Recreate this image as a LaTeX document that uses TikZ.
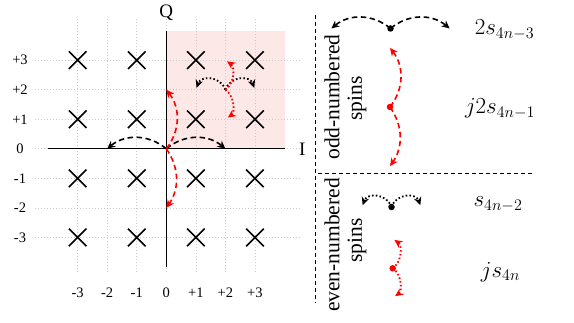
\RequirePackage{fix-cm}
\documentclass[tikz,border=0pt]{standalone}
\usepackage{fontspec}
\setmainfont{Liberation Serif}
\usetikzlibrary{arrows.meta,shapes.misc}
\definecolor{pinkbg}{RGB}{253,232,232}
\begin{document}
\begin{tikzpicture}[x=1pt,y=1pt,
  gridline/.style={draw=gray!40,line width=0.6pt,dash pattern=on 1.2pt off 1.8pt},
  axisline/.style={line width=1.2pt},
  xmark/.style={cross out,draw,line width=1.6pt,minimum size=16pt,inner sep=0pt},
  ticklab/.style={font=\fontsize{14.5}{17}\selectfont,inner sep=0pt},
  axlab/.style={font=\fontsize{19}{22}\selectfont,inner sep=0pt},
  rotlab/.style={font=\fontsize{21.5}{25}\selectfont,rotate=90,inner sep=0pt},
  mlab/.style={font=\fontsize{23}{27}\selectfont,inner sep=0pt,anchor=base},
  dasharr/.style={line width=1.6pt,dash pattern=on 5.5pt off 3.5pt,-{Stealth[length=8pt,width=7.5pt]}},
  dotarr/.style={line width=1.8pt,dash pattern=on 1.6pt off 2.2pt,-{Stealth[length=8pt,width=7.5pt]}},
  divider/.style={line width=0.9pt,dash pattern=on 4pt off 3pt},
  srcdot/.style={circle,fill,inner sep=0pt,minimum size=6.5pt}
]
\useasboundingbox (0,0) rectangle (574,322);

% ---------------- left constellation ----------------
\begin{scope}[shift={(166.3pt,173.2pt)},x=29.55pt,y=29.55pt]
  \fill[pinkbg] (0,0) rectangle (4,4);
  \foreach \i in {-3,...,3} {
    \draw[gridline] (\i,-4.17) -- (\i,4.45);
    \draw[gridline] (-4.45,\i) -- (4.5,\i);
  }
  \coordinate (Iw) at (-4,0);
  \coordinate (Ie) at (4,0);
  \coordinate (Qs) at (0,-4);
  \coordinate (Qn) at (0,4);
  \draw[axisline] (Iw) -- (Ie);
  \draw[axisline] (Qs) -- (Qn);
  \node[axlab] (Q) at (0,4.6) {Q};
  \node[axlab] (I) at (4.6,0) {I};
  \foreach \v/\t in {-3/-3,-2/-2,-1/-1,0/0,1/+1,2/+2,3/+3} {
    \node[ticklab] (xl\v) at (\v,-4.88) {\t};
    \node[ticklab] (yl\v) at (-4.95,\v) {\t};
  }
  \foreach \x in {-3,-1,1,3} {
    \foreach \y in {-3,-1,1,3} {
      \node[xmark] (m\x\y) at (\x,\y) {};
    }
  }
  \coordinate (O) at (0,0);
  \coordinate (L2) at (-2,0);
  \coordinate (R2) at (2,0);
  \coordinate (U2) at (0,2);
  \coordinate (D2) at (0,-2);
  \coordinate (C) at (2,2);
  \coordinate (C1) at (1,2);
  \coordinate (C3) at (3,2);
  \coordinate (Cu) at (2,3);
  \coordinate (Cd) at (2,1);
  \draw[dasharr] (O) to[bend right=40] (L2);
  \draw[dasharr] (O) to[bend left=40] (R2);
  \draw[dasharr,red] (O) to[bend right=38] (U2);
  \draw[dasharr,red] (O) to[bend left=35] (D2);
  \draw[dotarr,shorten >=2pt] (C) to[bend right=70,looseness=1.3] (C1);
  \draw[dotarr,shorten >=2pt] (C) to[bend left=70,looseness=1.3] (C3);
  \draw[dotarr,red,shorten >=2pt] (C) to[bend right=55] (Cu);
  \draw[dotarr,red,shorten >=3pt] (C) to[bend left=55] (Cd);
\end{scope}

% ---------------- right legend ----------------
\coordinate (Vt) at (315,307);
\coordinate (Vb) at (315,19);
\coordinate (Hl) at (318,149);
\coordinate (Hr) at (535,149);
\draw[divider] (Vt) -- (Vb);
\draw[divider] (Hl) -- (Hr);
\node[rotlab] (odd) at (332,225) {odd-numbered};
\node[rotlab] (spA) at (357,223.5) {spins};
\node[rotlab] (even) at (332,77) {even-numbered};
\node[rotlab] (spB) at (357,81.5) {spins};

\node[mlab] (t1) at (504.5,287) {$2s_{4n-3}$};
\node[mlab] (t2) at (500,208) {$j2s_{4n-1}$};
\node[mlab] (t3) at (498,115) {$s_{4n-2}$};
\node[mlab] (t4) at (500.5,45) {$js_{4n}$};

\begin{scope}[shift={(390.5pt,293.5pt)},x=29.55pt,y=29.55pt]
  \coordinate (a0) at (0,0);
  \coordinate (aL) at (-2,0);
  \coordinate (aR) at (2,0);
  \draw[dasharr] (a0) to[bend right=40] (aL);
  \draw[dasharr] (a0) to[bend left=40] (aR);
  \node[srcdot] (ad) at (a0) {};
\end{scope}
\begin{scope}[shift={(390pt,215pt)},x=29.55pt,y=29.55pt,red]
  \coordinate (b0) at (0,0);
  \coordinate (bU) at (0,2);
  \coordinate (bD) at (0,-2);
  \draw[dasharr] (b0) to[bend right=38] (bU);
  \draw[dasharr] (b0) to[bend left=35] (bD);
  \node[srcdot] (bd) at (b0) {};
\end{scope}
\begin{scope}[shift={(391.5pt,115pt)},x=29.55pt,y=29.55pt]
  \coordinate (c0) at (0,0);
  \coordinate (cL) at (-1,0);
  \coordinate (cR) at (1,0);
  \draw[dotarr,shorten >=2pt] (c0) to[bend right=70,looseness=1.3] (cL);
  \draw[dotarr,shorten >=2pt] (c0) to[bend left=70,looseness=1.3] (cR);
  \node[srcdot] (cd) at (c0) {};
\end{scope}
\begin{scope}[shift={(392.7pt,53.7pt)},x=29.55pt,y=29.55pt,red]
  \coordinate (d0) at (0,0);
  \coordinate (dU) at (0,1);
  \coordinate (dD) at (0,-1);
  \draw[dotarr,shorten >=2pt] (d0) to[bend right=55] (dU);
  \draw[dotarr,shorten >=3pt] (d0) to[bend left=55] (dD);
  \node[srcdot] (dd) at (d0) {};
\end{scope}
\end{tikzpicture}
\end{document}
